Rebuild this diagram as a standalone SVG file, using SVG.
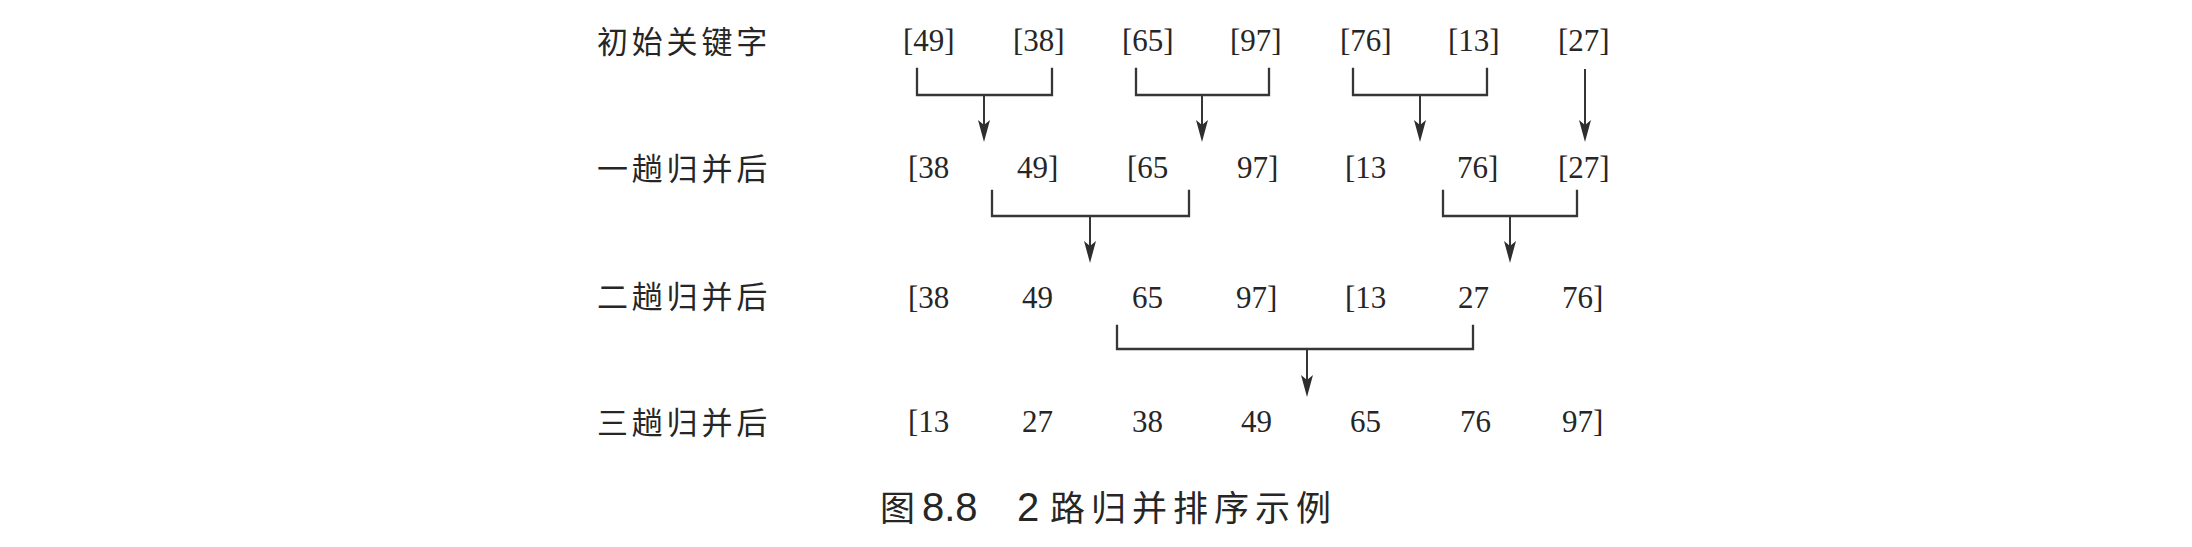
<svg xmlns="http://www.w3.org/2000/svg" width="2192" height="547" viewBox="0 0 2192 547">
<style>
.lbl{font-family:"Noto Sans CJK SC","Noto Sans CJK JP",sans-serif;font-size:31px;letter-spacing:3.8px;fill:#262626}
.num{font-family:"Liberation Serif","Times New Roman",serif;font-size:31px;fill:#262626}
.cap{font-family:"Noto Sans CJK SC","Noto Sans CJK JP",sans-serif;font-size:35px;fill:#262626}
.capd{font-family:"Liberation Sans",Arial,sans-serif;font-size:40px;fill:#262626}
.ln{fill:none;stroke:#363636;stroke-width:2.3;stroke-linecap:square}
.ar{fill:none;stroke:#363636;stroke-width:2;marker-end:url(#ah)}
</style>
<defs>
<marker id="ah" markerUnits="userSpaceOnUse" viewBox="0 0 22 12" refX="18" refY="6" markerWidth="22" markerHeight="12" orient="auto">
<path d="M0,0 L22,6 L0,12 L5,6 Z" fill="#2e2e2e"/>
</marker>
</defs>
<rect x="0" y="0" width="2192" height="547" fill="#ffffff"/>
<g id="labels">
<g id="label-r1"><text class="lbl" x="597" y="53">初始关键字</text></g>
<g id="label-r2"><text class="lbl" x="597" y="180">一趟归并后</text></g>
<g id="label-r3"><text class="lbl" x="597" y="308">二趟归并后</text></g>
<g id="label-r4"><text class="lbl" x="597" y="434">三趟归并后</text></g>
</g>
<g id="row1">
<g id="r1c1"><text class="num" x="903" y="51">[49]</text></g>
<g id="r1c2"><text class="num" x="1013" y="51">[38]</text></g>
<g id="r1c3"><text class="num" x="1122" y="51">[65]</text></g>
<g id="r1c4"><text class="num" x="1230" y="51">[97]</text></g>
<g id="r1c5"><text class="num" x="1340" y="51">[76]</text></g>
<g id="r1c6"><text class="num" x="1448" y="51">[13]</text></g>
<g id="r1c7"><text class="num" x="1558" y="51">[27]</text></g>
</g>
<g id="row2">
<g id="r2c1"><text class="num" x="908" y="178">[38</text></g>
<g id="r2c2"><text class="num" x="1017" y="178">49]</text></g>
<g id="r2c3"><text class="num" x="1127" y="178">[65</text></g>
<g id="r2c4"><text class="num" x="1237" y="178">97]</text></g>
<g id="r2c5"><text class="num" x="1345" y="178">[13</text></g>
<g id="r2c6"><text class="num" x="1457" y="178">76]</text></g>
<g id="r2c7"><text class="num" x="1558" y="178">[27]</text></g>
</g>
<g id="row3">
<g id="r3c1"><text class="num" x="908" y="308">[38</text></g>
<g id="r3c2"><text class="num" x="1022" y="308">49</text></g>
<g id="r3c3"><text class="num" x="1132" y="308">65</text></g>
<g id="r3c4"><text class="num" x="1236" y="308">97]</text></g>
<g id="r3c5"><text class="num" x="1345" y="308">[13</text></g>
<g id="r3c6"><text class="num" x="1458" y="308">27</text></g>
<g id="r3c7"><text class="num" x="1562" y="308">76]</text></g>
</g>
<g id="row4">
<g id="r4c1"><text class="num" x="908" y="432">[13</text></g>
<g id="r4c2"><text class="num" x="1022" y="432">27</text></g>
<g id="r4c3"><text class="num" x="1132" y="432">38</text></g>
<g id="r4c4"><text class="num" x="1241" y="432">49</text></g>
<g id="r4c5"><text class="num" x="1350" y="432">65</text></g>
<g id="r4c6"><text class="num" x="1460" y="432">76</text></g>
<g id="r4c7"><text class="num" x="1562" y="432">97]</text></g>
</g>
<g id="connectors">
<path class="ln" d="M917,69 V95 H1052 V69"/>
<line class="ar" x1="984" y1="95" x2="984" y2="138"/>
<path class="ln" d="M1136,69 V95 H1269 V69"/>
<line class="ar" x1="1202" y1="95" x2="1202" y2="138"/>
<path class="ln" d="M1353,69 V95 H1487 V69"/>
<line class="ar" x1="1420" y1="95" x2="1420" y2="138"/>
<line class="ar" x1="1585" y1="69" x2="1585" y2="138"/>
<path class="ln" d="M992,191 V216 H1189 V191"/>
<line class="ar" x1="1090" y1="216" x2="1090" y2="259"/>
<path class="ln" d="M1443,191 V216 H1577 V191"/>
<line class="ar" x1="1510" y1="216" x2="1510" y2="259"/>
<path class="ln" d="M1117,326 V349 H1473 V326"/>
<line class="ar" x1="1307" y1="349" x2="1307" y2="393"/>
</g>
<g id="caption">
<text y="521"><tspan class="cap" x="880">图</tspan><tspan class="capd" x="922">8.8</tspan><tspan class="capd" x="1017">2</tspan><tspan class="cap" x="1050" letter-spacing="6">路归并排序示例</tspan></text>
</g>
</svg>
